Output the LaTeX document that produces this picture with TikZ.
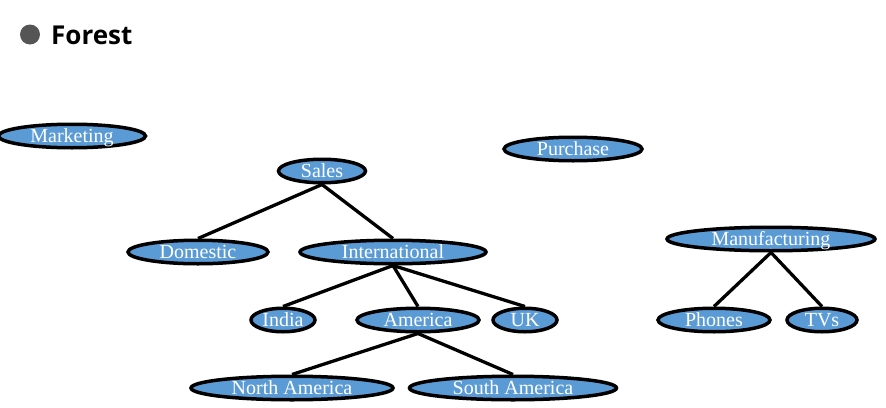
\documentclass[tikz,border=0pt]{standalone}
\usepackage{fontspec}
\setmainfont{Liberation Serif}
\newfontfamily\headfont{Open Sans}
\usetikzlibrary{shapes.geometric}
\definecolor{nodeblue}{HTML}{5B9BD5}
\definecolor{bulletgray}{HTML}{555555}
\tikzset{
  tnode/.style={ellipse, draw=black, line width=3.5pt, fill=nodeblue, text=white,
    inner sep=0pt, minimum height=23.5, text height=13.2pt, text depth=0pt,
    font=\fontsize{20}{20}\selectfont},
  tedge/.style={line width=3.3pt, black},
}
\begin{document}
\begin{tikzpicture}[x=1pt,y=-1pt]
\useasboundingbox (0,0) rectangle (886,407);
\fill[bulletgray] (30,34.5) circle (10);
\node[anchor=west, font=\headfont\bfseries\fontsize{26}{26}\selectfont, inner sep=0pt] (title) at (51,35) {Forest};
\node[tnode, minimum width=147] (mkt) at (72,136) {Marketing};
\node[tnode, minimum width=138] (pur) at (573,149) {Purchase};
\node[tnode, minimum width=87] (sales) at (322,171) {Sales};
\node[tnode, minimum width=140] (dom) at (198,252) {Domestic};
\node[tnode, minimum width=186] (intl) at (393,252) {International};
\node[tnode, minimum width=64] (india) at (283,320) {India};
\node[tnode, minimum width=122] (am) at (418,320) {America};
\node[tnode, minimum width=64] (uk) at (525,320) {UK};
\node[tnode, minimum width=202] (na) at (292,388) {North America};
\node[tnode, minimum width=207] (sa) at (513,388) {South America};
\node[tnode, minimum width=208] (man) at (771,239) {Manufacturing};
\node[tnode, minimum width=112] (ph) at (714,320) {Phones};
\node[tnode, minimum width=70] (tv) at (822,320) {TVs};
\draw[tedge] (sales.south) -- (dom.north);
\draw[tedge] (sales.south) -- (intl.north);
\draw[tedge] (intl.south) -- (india.north);
\draw[tedge] (intl.south) -- (am.north);
\draw[tedge] (intl.south) -- (uk.north);
\draw[tedge] (am.south) -- (na.north);
\draw[tedge] (am.south) -- (sa.north);
\draw[tedge] (man.south) -- (ph.north);
\draw[tedge] (man.south) -- (tv.north);
\end{tikzpicture}
\end{document}
